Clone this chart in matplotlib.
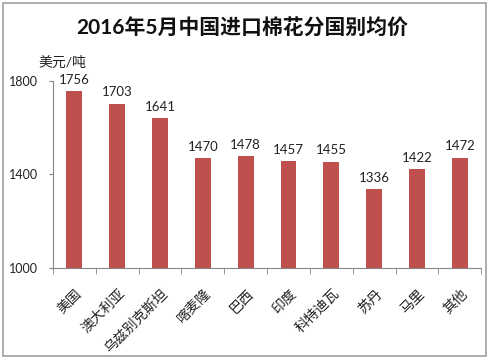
import matplotlib
matplotlib.use("Agg")
import matplotlib.pyplot as plt
import matplotlib.transforms as mtransforms
from matplotlib.patches import Rectangle
import numpy as np

plt.rcParams['font.family'] = ['Lato', 'Noto Sans CJK SC', 'DejaVu Sans']

countries = ["美国", "澳大利亚", "乌兹别克斯坦", "喀麦隆", "巴西", "印度",
             "科特迪瓦", "苏丹", "马里", "其他"]
prices = [1756, 1703, 1641, 1470, 1478, 1457, 1455, 1336, 1422, 1472]
yticks = [1000, 1400, 1800]

bar_color = "#C0504D"
axis_color = "#868686"

fig = plt.figure(figsize=(4.9, 3.62), dpi=100)
ax = fig.add_axes([0.108, 0.260, 0.874, 0.516])

x = np.arange(len(countries))
ax.bar(x, prices, width=0.37, color=bar_color, bottom=0)

for xi, v in zip(x, prices):
    ax.annotate(str(v), (xi, v), xytext=(0, 4), textcoords="offset points",
                ha="center", va="bottom", fontsize=9.5, color="#222222")

ax.set_ylim(1000, 1800)
ax.set_xlim(-0.5, len(countries) - 0.5)
ax.set_yticks(yticks)
ax.tick_params(axis="y", length=3, pad=8, color=axis_color, labelsize=9,
               labelcolor="#222222")

ax.set_xticks(x)
ax.set_xticklabels(countries, rotation=45, ha="right", va="center",
                   rotation_mode="anchor", fontsize=10, color="#222222",
                   family=['Noto Sans CJK SC'])
ax.tick_params(axis="x", which="major", length=0, pad=17)
shift = mtransforms.ScaledTranslation(4 / 72, 0, fig.dpi_scale_trans)
for lbl in ax.get_xticklabels():
    lbl.set_transform(lbl.get_transform() + shift)
ax.set_xticks(np.arange(-0.5, len(countries), 1.0), minor=True)
ax.tick_params(axis="x", which="minor", length=4, color=axis_color)

for side in ["top", "right"]:
    ax.spines[side].set_visible(False)
for side in ["left", "bottom"]:
    ax.spines[side].set_color(axis_color)
    ax.spines[side].set_linewidth(0.8)

fig.text(0.495, 0.920, "2016年5月中国进口棉花分国别均价", ha="center", va="center",
         fontsize=15, fontweight="bold", color="#111111")
fig.text(0.127, 0.829, "美元/吨", ha="center", va="center", fontsize=10,
         color="#222222")

border = Rectangle((0.006, 0.017), 0.985, 0.975, transform=fig.transFigure,
                   fill=False, edgecolor="#A0A0A0", linewidth=1.2)
fig.patches.append(border)

fig.savefig("out.png", dpi=100)
